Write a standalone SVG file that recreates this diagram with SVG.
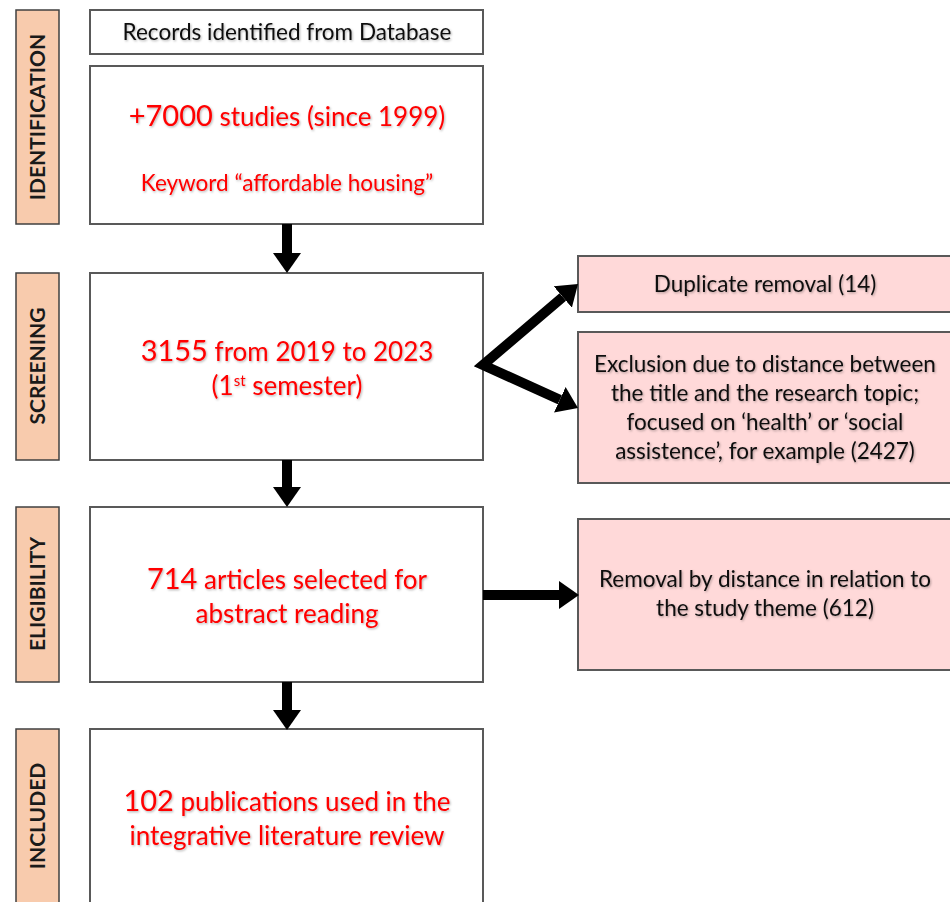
<svg xmlns="http://www.w3.org/2000/svg" width="950" height="902" viewBox="0 0 950 902">
<style>
.stage{fill:#F8CBAD;stroke:#404040;stroke-width:1.5}
.box{fill:#FFFFFF;stroke:#595959;stroke-width:2}
.pink{fill:#FFD9D9;stroke:#595959;stroke-width:2}
.lab{font-family:Lato,"Liberation Sans",sans-serif;font-weight:bold;font-size:21px;fill:#1a1a1a;text-anchor:middle}
.blk{font-family:Lato,"Liberation Sans",sans-serif;font-size:22.5px;fill:#111;text-anchor:middle;filter:url(#sh)}
.red{font-family:Lato,"Liberation Sans",sans-serif;font-size:26px;fill:#FF0000;text-anchor:middle;filter:url(#sh)}
.big{font-size:29px}
.conn{stroke:#000;stroke-width:10;fill:none;stroke-linejoin:miter;stroke-miterlimit:10}
</style>
<defs>
<filter id="sh" x="-5%" y="-20%" width="110%" height="150%">
<feDropShadow dx="1" dy="1.2" stdDeviation="0.8" flood-color="#000" flood-opacity="0.3"/>
</filter>
<marker id="ah" markerUnits="userSpaceOnUse" viewBox="0 0 20 28" refX="0" refY="14" markerWidth="20" markerHeight="28" orient="auto-start-reverse">
<path d="M0,0 L20,14 L0,28 z" fill="#000"/>
</marker>
</defs>

<g id="stage-identification"><rect class="stage" x="16" y="10" width="43" height="214"/><text class="lab" transform="translate(45,117) rotate(-90)">IDENTIFICATION</text></g>
<g id="stage-screening"><rect class="stage" x="16" y="273" width="43" height="187"/><text class="lab" transform="translate(45,366) rotate(-90)">SCREENING</text></g>
<g id="stage-eligibility"><rect class="stage" x="16" y="507" width="43" height="175"/><text class="lab" transform="translate(45,594) rotate(-90)">ELIGIBILITY</text></g>
<g id="stage-included"><rect class="stage" x="16" y="729" width="43" height="180"/><text class="lab" transform="translate(45,816) rotate(-90)">INCLUDED</text></g>

<g id="records"><rect class="box" x="90" y="10" width="393" height="44"/><text class="blk" x="287" y="40">Records identified from Database</text></g>
<g id="identified"><rect class="box" x="90" y="66" width="393" height="158"/>
<text class="red" x="287" y="126"><tspan class="big">+7000</tspan> studies (since 1999)</text>
<text class="red" x="287" y="191" style="font-size:22.5px">Keyword “affordable housing”</text></g>
<g id="screened"><rect class="box" x="90" y="273" width="393" height="187"/>
<text class="red" x="287" y="361"><tspan class="big">3155</tspan> from 2019 to 2023</text>
<text class="red" x="287" y="395">(1<tspan font-size="15" baseline-shift="super">st</tspan> semester)</text></g>
<g id="duplicates"><rect class="pink" x="578" y="256" width="380" height="56"/><text class="blk" x="765" y="292">Duplicate removal (14)</text></g>
<g id="excluded-title"><rect class="pink" x="578" y="332" width="380" height="151"/>
<text class="blk" x="765" y="372">Exclusion due to distance between</text>
<text class="blk" x="765" y="401">the title and the research topic;</text>
<text class="blk" x="765" y="430">focused on ‘health’ or ‘social</text>
<text class="blk" x="765" y="459">assistence’, for example (2427)</text></g>
<g id="eligible"><rect class="box" x="90" y="507" width="393" height="175"/>
<text class="red" x="287" y="589"><tspan class="big">714</tspan> articles selected for</text>
<text class="red" x="287" y="623">abstract reading</text></g>
<g id="removed-theme"><rect class="pink" x="578" y="519" width="380" height="151"/>
<text class="blk" x="765" y="587">Removal by distance in relation to</text>
<text class="blk" x="765" y="616">the study theme (612)</text></g>
<g id="included"><rect class="box" x="90" y="729" width="393" height="185"/>
<text class="red" x="287" y="811"><tspan class="big">102</tspan> publications used in the</text>
<text class="red" x="287" y="845">integrative literature review</text></g>

<g id="connectors">
<line class="conn" x1="287" y1="224" x2="287" y2="253" marker-end="url(#ah)"/>
<line class="conn" x1="287" y1="460" x2="287" y2="487" marker-end="url(#ah)"/>
<line class="conn" x1="287" y1="682" x2="287" y2="710" marker-end="url(#ah)"/>
<line class="conn" x1="483" y1="595" x2="559" y2="595" marker-end="url(#ah)"/>
<polyline class="conn" points="562.8,297 483,365 559.8,399.8" marker-start="url(#ah)" marker-end="url(#ah)"/>
</g>
</svg>
